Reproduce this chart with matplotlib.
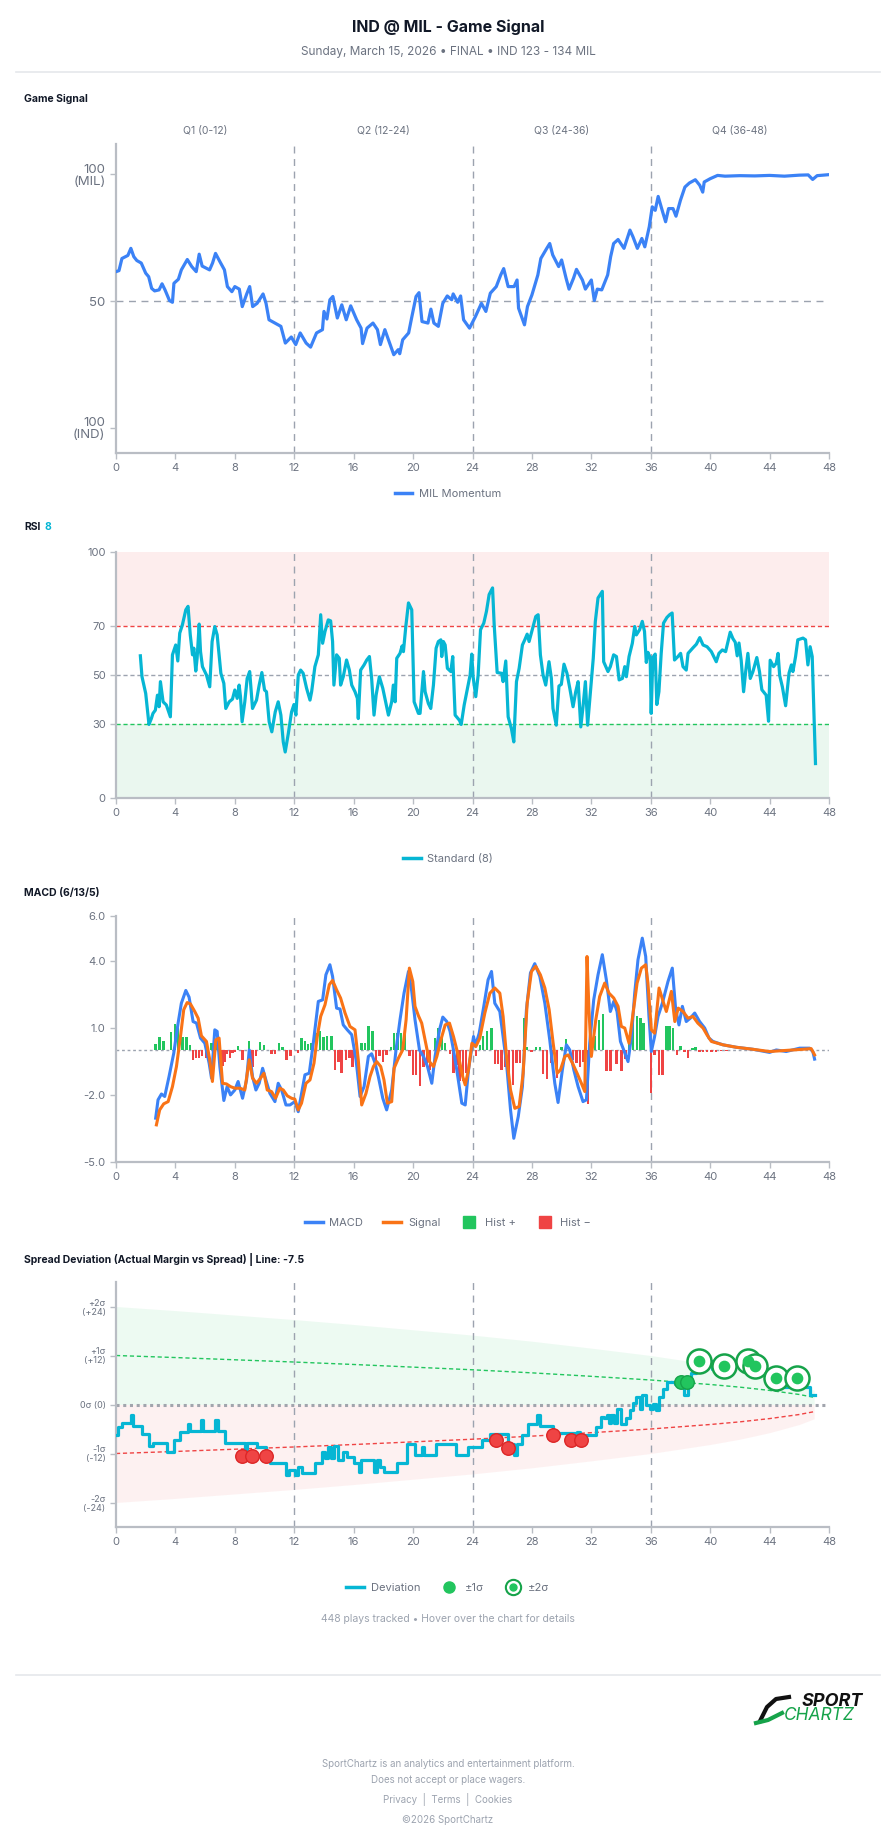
import numpy as np
import matplotlib
matplotlib.use("Agg")
import matplotlib.pyplot as plt
from matplotlib.lines import Line2D

plt.rcParams['font.family'] = ['Inter', 'DejaVu Sans']

# ---- data (minutes elapsed, value) ----
quarters = ["Q1 (0-12)", "Q2 (12-24)", "Q3 (24-36)", "Q4 (36-48)"]
quarter_mid = [6, 18, 30, 42]
quarter_lines = [12, 24, 36]
x_ticks = list(range(0, 49, 4))

gs_t = [0, 0.2, 0.4, 0.8, 1.0, 1.2, 1.4, 1.7, 2.0, 2.2,
        2.4, 2.6, 2.9, 3.1, 3.3, 3.6, 3.8, 3.9, 4.2, 4.4,
        4.8, 5.1, 5.4, 5.6, 5.8, 6.3, 6.5, 6.7, 7.0, 7.3,
        7.5, 7.8, 8.0, 8.3, 8.5, 8.8, 9.0, 9.2, 9.5, 9.9,
        10.1, 10.3, 10.8, 11.1, 11.4, 11.8, 12.1, 12.4, 12.8, 13.1,
        13.5, 13.9, 14.0, 14.2, 14.4, 14.6, 14.9, 15.2, 15.5, 15.8,
        16.2, 16.5, 16.6, 16.9, 17.3, 17.6, 17.8, 18.1, 18.5, 18.7,
        19.0, 19.1, 19.3, 19.7, 19.9, 20.2, 20.4, 20.6, 21.0, 21.2,
        21.4, 21.7, 22.0, 22.3, 22.6, 22.7, 23.0, 23.2, 23.4, 23.8,
        24.2, 24.6, 24.9, 25.2, 25.6, 25.9, 26.1, 26.4, 26.8, 27.0,
        27.1, 27.5, 27.7, 28.0, 28.4, 28.6, 29.0, 29.2, 29.4, 29.8,
        30.0, 30.3, 30.5, 30.8, 31.0, 31.4, 31.6, 32.0, 32.2, 32.4,
        32.7, 33.1, 33.3, 33.5, 33.8, 34.2, 34.6, 34.8, 35.1, 35.4,
        35.6, 35.9, 36.1, 36.3, 36.5, 36.8, 37.0, 37.2, 37.5, 37.7,
        38.0, 38.3, 38.6, 39.0, 39.3, 39.5, 39.6, 40.0, 40.5, 41.0,
        42, 43, 44, 45, 46, 46.6, 46.9, 47.2, 48.0]
gs_v = [61.6, 62, 66.8, 68, 70.8, 67.5, 66, 65, 61, 59.6,
        55, 54, 54.4, 56.8, 54.4, 50.2, 49.5, 57, 58.6, 62.3,
        66.4, 63.6, 61.6, 68.5, 63.8, 62.3, 65, 68.8, 65.5, 62.3,
        55.7, 53.7, 55.7, 54.7, 47.8, 52.8, 55.7, 47.8, 49.1, 52.8,
        49.1, 42.6, 41, 40, 33.4, 35.8, 32.8, 37.4, 33.4, 31.8,
        37.4, 38.7, 45.9, 42.9, 50.5, 51.8, 43.3, 48.5, 42.6, 48.1,
        42.6, 39.3, 33.2, 39.3, 41.3, 38.7, 32.8, 38.7, 32.1, 28.8,
        30.8, 29.2, 34.7, 37.4, 43.3, 51.8, 53.3, 41.9, 41.3, 46.8,
        41.3, 40, 49.1, 52, 50.5, 52.8, 49.5, 52, 42.6, 39.3,
        43.9, 49.1, 45.9, 53.1, 55.7, 60.3, 62.8, 55.7, 55.7, 58.3,
        47.2, 40.6, 47.8, 52.4, 60.3, 66.8, 70.8, 72.7, 68.2, 63.6,
        66.2, 59, 54.7, 59, 62.5, 58.3, 54.7, 58.3, 50.2, 54.7,
        54.4, 60.3, 67.5, 72.7, 74.3, 70.8, 78, 75.4, 70.8, 74.7,
        71.4, 79.3, 87.2, 85.8, 91.3, 85.2, 81.3, 86.5, 86.5, 83.5,
        89.8, 95, 96.6, 97.9, 95.7, 93, 97, 98.3, 99.6, 99.3,
        99.5, 99.4, 99.6, 99.3, 99.7, 99.8, 98, 99.5, 99.9]

rsi_pts = [(1.64, 57.8), (1.75, 49.3), (2.0, 42.5), (2.22, 29.9), (2.38, 32.3), (2.49, 34.4),
           (2.65, 35.7), (2.79, 41.8), (2.9, 37.1), (2.99, 47.3), (3.17, 39.1), (3.39, 37.8),
           (3.66, 33), (3.8, 58.2), (4.02, 62.2), (4.16, 55.7), (4.29, 67), (4.47, 70.4),
           (4.7, 76.5), (4.85, 77.9), (5.0, 66.3), (5.15, 58.2), (5.24, 60.9), (5.37, 51.6),
           (5.46, 56.8), (5.6, 70.7), (5.69, 59.5), (5.82, 53.4), (6.09, 50), (6.31, 45.2),
           (6.47, 63.6), (6.65, 69.7), (6.81, 66.3), (7.06, 50.7), (7.26, 46.6), (7.39, 36.4),
           (7.62, 39.1), (7.84, 40.2), (8.0, 43.9), (8.16, 40.5), (8.29, 45.9), (8.38, 41.2),
           (8.49, 31), (8.67, 39.1), (8.83, 48.6), (9.0, 51.4), (9.19, 36.4), (9.46, 39.8),
           (9.64, 45.9), (9.82, 51), (10.0, 43.9), (10.13, 43.2), (10.31, 31), (10.49, 26.9),
           (10.72, 35), (10.92, 39.1), (11.1, 33.7), (11.26, 22.8), (11.39, 18.7), (11.6, 26.2),
           (11.82, 35), (11.98, 38), (12.11, 33.7), (12.27, 50), (12.43, 52), (12.6, 50.7),
           (12.83, 44.6), (13.06, 39.8), (13.17, 43.2), (13.39, 53.4), (13.62, 58.2), (13.78, 74.5),
           (13.91, 62.9), (14.07, 67.7), (14.29, 72.4), (14.45, 72), (14.58, 63.6), (14.67, 45.9),
           (14.85, 58.2), (15.03, 56.8), (15.12, 45.9), (15.3, 49.3), (15.52, 56.1), (15.71, 52),
           (15.87, 45.9), (16.09, 43.2), (16.25, 40.5), (16.31, 32.3), (16.47, 52), (16.7, 54.1),
           (16.88, 56.1), (17.06, 57.5), (17.21, 48.6), (17.37, 33.7), (17.51, 41.8), (17.73, 49.3),
           (17.96, 44.6), (18.18, 38.4), (18.34, 33.7), (18.56, 39.1), (18.67, 45.9), (18.79, 39.1),
           (18.9, 56.8), (19.12, 58.8), (19.26, 61.8), (19.35, 59.5), (19.51, 69.7), (19.69, 79.3),
           (19.91, 76.5), (20.07, 39.1), (20.36, 34.4), (20.47, 34.4), (20.7, 51.4), (20.81, 43.2),
           (21.03, 38.4), (21.19, 36.4), (21.37, 45.9), (21.55, 60.9), (21.7, 63.6), (21.87, 64.3),
           (21.93, 57.5), (22.04, 63.6), (22.16, 62.2), (22.31, 52.7), (22.54, 51.4), (22.67, 57.5),
           (22.83, 33.7), (23.12, 31.6), (23.24, 29.9), (23.44, 37.8), (23.66, 44.6), (23.84, 50),
           (23.95, 58.5), (24.04, 49.3), (24.22, 41.2), (24.38, 50), (24.54, 68.4), (24.76, 71.1),
           (24.94, 75.9), (25.12, 82.7), (25.35, 85.4), (25.46, 70.4), (25.66, 51), (25.96, 50.7),
           (26.06, 47.3), (26.24, 55.7), (26.4, 33), (26.62, 28.2), (26.78, 22.8), (26.96, 47.3),
           (27.14, 52.7), (27.36, 62.2), (27.52, 64.3), (27.68, 66.6), (27.81, 63.6), (28.08, 69.7),
           (28.26, 73.8), (28.42, 74.5), (28.57, 58.2), (28.75, 50), (28.93, 45.9), (29.15, 55.4),
           (29.31, 48.6), (29.42, 36.4), (29.64, 29.6), (29.82, 45.5), (29.98, 46.2), (30.16, 54.4),
           (30.36, 50.7), (30.55, 44.6), (30.77, 37.1), (30.95, 43.2), (31.11, 47.3), (31.29, 28.9),
           (31.44, 37.1), (31.6, 47.3), (31.75, 29.6), (31.93, 42.5), (32.13, 56.8), (32.27, 71.8),
           (32.45, 81.3), (32.74, 84), (32.83, 55.4), (33.12, 51.4), (33.28, 53.4), (33.5, 58.2),
           (33.69, 57.5), (33.87, 48), (34.09, 48.6), (34.25, 53.4), (34.36, 49.3), (34.54, 57.5),
           (34.76, 62.9), (34.92, 69.7), (35.03, 66.3), (35.25, 68.4), (35.43, 71.8), (35.58, 67.7),
           (35.7, 55.1), (35.81, 59.2), (35.96, 57.1), (36.03, 34.4), (36.14, 57.1), (36.3, 58.5),
           (36.41, 38), (36.55, 43.2), (36.7, 58.5), (36.86, 71.1), (37.09, 73.4), (37.27, 74.5),
           (37.44, 75.2), (37.6, 56.1), (37.83, 57.5), (38.01, 58.8), (38.17, 53.4), (38.39, 52),
           (38.51, 58.8), (38.85, 61.1), (39.07, 62.5), (39.3, 65.2), (39.52, 62.2), (39.79, 61.5),
           (40.08, 59.5), (40.41, 55.4), (40.59, 58.8), (40.82, 60.2), (41.04, 59.5), (41.2, 63.6),
           (41.35, 67.4), (41.53, 64.8), (41.69, 63.3), (41.82, 57.8), (41.94, 63), (42.09, 55.9),
           (42.25, 43.2), (42.39, 51.4), (42.54, 58.8), (42.7, 48.6), (42.88, 51.4), (43.14, 57.1),
           (43.32, 51.4), (43.48, 44), (43.77, 41.8), (43.93, 31.2), (44.04, 56), (44.27, 53.4),
           (44.45, 54.8), (44.57, 58.8), (44.68, 49.8), (44.86, 45.2), (45.08, 37.5), (45.31, 50.8),
           (45.47, 54.1), (45.57, 51.4), (45.75, 57.5), (45.9, 64.3), (46.25, 65), (46.42, 64.3),
           (46.58, 54.1), (46.73, 61.5), (46.87, 57.5), (47.09, 14)]

macd_pts = [(2.67, -3.04), (2.83, -2.22), (3.06, -1.96), (3.28, -2.07), (3.57, -1.18), (3.89, -0.13),
            (4.18, 1.21), (4.4, 2.1), (4.7, 2.67), (4.92, 2.37), (5.19, 1.28), (5.42, 1.21),
            (5.69, 0.54), (5.98, 0.31), (6.27, -0.58), (6.43, -1.25), (6.65, 0.91), (6.81, 0.84),
            (6.99, -0.73), (7.26, -2.25), (7.48, -1.63), (7.71, -2.0), (8.0, -1.78), (8.22, -1.4),
            (8.52, -2.15), (8.79, -1.33), (8.97, 0.01), (9.19, -1.18), (9.42, -1.78), (9.64, -1.48),
            (9.87, -0.81), (10.09, -1.33), (10.36, -1.93), (10.7, -2.3), (10.92, -1.48), (11.15, -1.78),
            (11.44, -2.45), (11.71, -2.45), (12.04, -2.3), (12.27, -2.75), (12.49, -1.93), (12.72, -1.1),
            (13.01, -1.03), (13.28, 0.31), (13.62, 2.18), (13.91, 2.25), (14.13, 3.37), (14.4, 3.82),
            (14.58, 3.3), (14.85, 1.88), (15.08, 1.84), (15.3, 1.13), (15.57, 0.91), (15.87, 0.69),
            (16.16, -0.43), (16.43, -2.07), (16.7, -1.63), (16.99, -0.28), (17.21, -0.16), (17.44, -0.58),
            (17.66, -1.18), (17.96, -2.15), (18.22, -2.67), (18.56, -1.78), (18.85, 0.01), (19.12, 1.36),
            (19.39, 2.55), (19.69, 3.52), (19.91, 2.63), (20.13, 1.36), (20.43, 0.01), (20.7, -0.28),
            (20.97, -0.73), (21.26, -1.48), (21.48, -0.28), (21.78, 0.91), (22.0, 1.48), (22.27, 1.28),
            (22.49, 0.84), (22.72, 0.01), (22.94, -0.88), (23.28, -2.37), (23.51, -2.45), (23.73, -0.88),
            (24.07, 0.61), (24.2, 0.2), (24.45, 0.76), (24.76, 1.96), (25.05, 3.15), (25.28, 3.52),
            (25.5, 2.1), (25.84, 1.73), (26.06, 0.61), (26.29, -0.58), (26.56, -2.67), (26.78, -3.94),
            (27.08, -2.97), (27.36, -1.63), (27.63, 1.81), (27.9, 3.45), (28.19, 3.87), (28.53, 3.3),
            (28.87, 2.1), (29.2, 0.46), (29.54, -1.48), (29.76, -2.34), (30.05, -0.88), (30.32, 0.24),
            (30.55, 0.01), (30.82, -0.88), (31.11, -1.63), (31.44, -2.3), (31.67, -2.22), (31.89, 0.31),
            (32.16, 2.25), (32.45, 3.37), (32.74, 4.27), (33.01, 3.15), (33.28, 1.73), (33.51, 2.18),
            (33.73, 1.73), (33.96, 0.39), (34.18, 0.01), (34.47, -0.51), (34.7, 0.61), (34.92, 2.55),
            (35.14, 4.04), (35.43, 5.01), (35.66, 4.19), (35.88, 1.51), (36.04, -0.06), (36.26, 0.61),
            (36.49, 1.51), (36.78, 2.1), (37.16, 3.07), (37.45, 3.67), (37.68, 1.81), (37.9, 1.13),
            (38.13, 1.96), (38.39, 1.28), (38.66, 1.43), (38.96, 1.66), (39.29, 1.28), (39.63, 0.99),
            (39.92, 0.54), (40.19, 0.39), (40.86, 0.24), (41.76, 0.13), (42.88, 0.04), (44.0, -0.1),
            (44.45, 0.01), (45.12, -0.06), (46.02, 0.09), (46.69, 0.09), (46.91, -0.06), (47.03, -0.4)]

signal_pts = [(2.72, -3.34), (2.94, -2.67), (3.21, -2.4), (3.51, -2.3), (3.8, -1.63), (4.07, -0.73),
              (4.34, 0.61), (4.56, 1.81), (4.79, 2.13), (5.01, 2.07), (5.3, 1.73), (5.53, 1.43),
              (5.75, 0.64), (6.09, 0.39), (6.31, -0.43), (6.49, -1.4), (6.72, 0.46), (6.94, 0.54),
              (7.17, -1.48), (7.44, -1.51), (7.71, -1.63), (8.0, -1.7), (8.34, -1.7), (8.67, -1.78),
              (8.97, -0.43), (9.19, -1.25), (9.46, -1.48), (9.73, -1.25), (9.96, -1.03), (10.18, -1.78),
              (10.47, -1.85), (10.74, -2.15), (11.03, -1.7), (11.26, -1.78), (11.53, -2.04), (11.82, -2.15),
              (12.04, -2.19), (12.27, -2.67), (12.49, -2.37), (12.79, -1.48), (13.06, -1.33), (13.33, -0.58),
              (13.55, 0.61), (13.78, 1.51), (14.07, 2.03), (14.36, 2.93), (14.58, 3.12), (14.85, 2.7),
              (15.12, 2.33), (15.42, 1.66), (15.75, 1.06), (16.09, 0.91), (16.31, -0.43), (16.54, -2.45),
              (16.83, -1.93), (17.1, -1.18), (17.33, -0.73), (17.55, -0.51), (17.82, -0.73), (18.04, -1.33),
              (18.27, -2.37), (18.56, -2.3), (18.72, -0.81), (19.01, -0.36), (19.3, 0.01), (19.53, 1.36),
              (19.75, 3.67), (19.98, 3.07), (20.13, 1.96), (20.36, 1.54), (20.58, 1.21), (20.81, 0.46),
              (21.1, -0.51), (21.37, -0.73), (21.6, -0.28), (21.87, 0.46), (22.16, 1.13), (22.45, 1.21),
              (22.72, 0.61), (23.06, -0.28), (23.34, -1.18), (23.51, -1.55), (23.73, -0.88), (23.96, 0.31),
              (24.22, 0.16), (24.49, 0.54), (24.83, 1.66), (25.17, 2.55), (25.5, 2.78), (25.84, 2.55),
              (26.06, 1.51), (26.29, -0.28), (26.56, -1.78), (26.85, -2.6), (27.14, -2.52), (27.41, -1.03),
              (27.68, 2.1), (27.97, 3.52), (28.26, 3.75), (28.57, 3.37), (28.87, 2.78), (29.16, 1.81),
              (29.43, 0.31), (29.7, -1.03), (29.92, -0.88), (30.22, -0.28), (30.44, -0.21), (30.73, -0.58),
              (31.04, -1.03), (31.33, -1.48), (31.56, -1.85), (31.71, 4.19), (31.84, 1.81), (32.0, -0.28),
              (32.3, 1.36), (32.56, 2.4), (32.9, 3.0), (33.19, 2.55), (33.51, 2.33), (33.8, 1.96),
              (34.02, 1.06), (34.25, 0.99), (34.54, 0.31), (34.81, 1.66), (35.08, 3.0), (35.37, 3.67),
              (35.66, 3.82), (35.81, 3.0), (36.04, 0.91), (36.26, 0.76), (36.56, 2.78), (36.83, 2.18),
              (37.05, 1.73), (37.39, 2.63), (37.62, 1.28), (37.85, 1.88), (38.17, 1.73), (38.51, 1.43),
              (38.84, 1.51), (39.17, 1.21), (39.52, 0.99), (39.78, 0.69), (40.08, 0.39), (40.86, 0.24),
              (41.76, 0.13), (42.88, 0.04), (44.0, -0.06), (45.12, -0.01), (46.24, 0.04), (46.8, 0.07),
              (47.03, -0.21)]

hist_pts = [(2.67, 0.27), (2.94, 0.61), (3.21, 0.43), (3.69, 0.81), (3.96, 1.16), (4.18, 0.99),
            (4.47, 0.61), (4.74, 0.58), (4.97, 0.24), (5.19, -0.46), (5.37, -0.36), (5.6, -0.36),
            (5.78, -0.28), (6.04, -0.36), (6.43, 0.31), (6.58, 0.31), (6.81, 0.34), (7.17, -0.7),
            (7.33, -0.51), (7.48, -0.16), (7.66, -0.36), (7.84, -0.13), (8.0, -0.06), (8.22, 0.19),
            (8.52, -0.43), (8.97, 0.42), (9.19, -0.73), (9.42, -0.28), (9.69, 0.36), (9.96, 0.24),
            (10.47, -0.16), (10.7, -0.16), (10.99, 0.34), (11.21, 0.13), (11.48, -0.46), (11.75, -0.28),
            (12.27, -0.13), (12.49, 0.54), (12.72, 0.42), (12.94, 0.28), (13.17, 0.31), (13.46, 0.76),
            (13.73, 0.84), (13.96, 0.61), (14.22, 0.64), (14.52, 0.64), (14.74, -0.88), (14.97, -0.51),
            (15.19, -1.03), (15.48, -0.43), (15.71, -0.36), (15.93, -0.73), (16.54, 0.34), (16.76, 0.34),
            (16.99, 1.09), (17.28, 0.84), (17.51, -0.51), (17.73, -0.28), (17.96, -0.51), (18.22, -0.21),
            (18.52, 0.16), (18.72, 0.79), (18.94, 0.79), (19.17, 0.79), (19.46, 0.91), (19.75, -0.28),
            (19.98, -1.1), (20.2, -1.1), (20.47, -1.6), (20.7, -0.73), (20.92, -0.66), (21.15, -0.88),
            (21.48, 0.54), (21.71, 0.99), (21.93, 0.54), (22.16, 0.31), (22.49, -0.16), (22.72, -1.03),
            (22.94, -0.66), (23.12, -1.4), (23.35, -1.4), (23.57, -1.03), (24.22, -0.25), (24.49, 0.24),
            (24.72, 0.64), (24.99, 0.84), (25.28, 0.99), (25.5, -0.61), (25.73, -0.61), (25.95, -0.88),
            (26.17, -0.73), (26.47, -1.48), (26.74, -1.55), (26.96, -0.58), (27.18, -0.58), (27.45, 1.43),
            (27.68, 0.13), (27.97, -0.1), (28.26, 0.12), (28.53, 0.12), (28.75, -1.06), (29.02, -1.3),
            (29.31, -0.58), (29.7, -1.25), (29.99, 0.16), (30.28, 0.49), (30.5, 0.16), (30.77, -0.43),
            (31.0, -0.58), (31.22, -0.76), (31.44, -0.51), (31.78, -2.42), (32.23, 0.64), (32.52, 1.36),
            (32.79, 1.63), (33.01, -0.91), (33.28, -0.91), (33.69, -0.61), (34.02, -0.91), (34.31, -0.4),
            (34.54, 0.46), (34.81, 1.21), (35.08, 1.51), (35.3, 1.43), (35.52, 1.21), (36.0, -1.93),
            (36.26, -0.21), (36.56, -1.1), (36.78, -1.1), (37.05, 1.06), (37.27, 1.09), (37.5, 0.99),
            (37.77, -0.21), (38.01, 0.19), (38.28, -0.06), (38.51, -0.36), (38.8, 0.09), (39.02, 0.13),
            (39.29, -0.06), (39.52, -0.1), (39.78, -0.1), (40.08, -0.09), (40.41, -0.07), (40.75, -0.04),
            (41.09, -0.03)]

# spread deviation (step line) and sigma bands
dev_pts = [(0.0, -7.5), (0.16, -5.5), (0.38, -4.5), (1.0, -2.6), (1.16, -5.3), (1.78, -7.3),
           (2.25, -10.2), (2.47, -9.4), (3.41, -11.6), (3.88, -8.6), (4.29, -6.7), (4.82, -4.7),
           (4.98, -6.4), (5.7, -3.7), (5.85, -6.4), (6.67, -3.7), (6.86, -6.4), (7.36, -9.4),
           (8.67, -10.8), (8.83, -9.4), (9.46, -10.4), (10.08, -12.4), (10.39, -14.3), (11.43, -17.3),
           (11.65, -16.1), (12.05, -17.3), (12.27, -15.3), (12.49, -16.7), (13.37, -14.3), (13.84, -11.6),
           (14.06, -13.2), (14.25, -10.4), (14.46, -13.2), (14.68, -10.2), (14.93, -13.5), (15.25, -11.6),
           (15.56, -12.8), (16.03, -14.3), (16.34, -16.5), (16.5, -13.6), (17.38, -16.5), (17.56, -13.6),
           (17.75, -15.4), (18.07, -16.5), (18.94, -14.3), (19.57, -9.6), (20.1, -12.4), (20.57, -10.4),
           (20.73, -12.4), (21.51, -9.6), (22.92, -12.4), (23.7, -10.4), (24.64, -8.6), (25.2, -7.3),
           (26.36, -10.4), (26.58, -9.6), (26.77, -12.4), (26.99, -9.6), (27.3, -7.5), (27.71, -4.7),
           (28.33, -2.6), (28.55, -5.3), (29.4, -7.1), (31.06, -6.7), (31.21, -7.5), (32.31, -5.5),
           (32.62, -3.0), (32.84, -3.4), (33.03, -2.6), (33.16, -4.5), (33.34, -2.6), (33.5, -4.5),
           (33.72, -1.2), (33.97, -4.7), (34.35, -3.2), (34.6, -1.4), (34.82, 0.4), (35.03, 1.9),
           (35.28, -1.0), (35.44, 2.3), (35.66, -0.2), (35.97, -1.0), (36.16, 0.1), (36.38, -1.4),
           (36.54, 1.9), (36.85, 3.9), (37.1, 5.6), (37.63, 5.1), (38.26, 2.3), (38.48, 5.1),
           (38.73, 7.6), (39.04, 8.6), (39.2, 10.6), (40.14, 8.6), (40.29, 9.6), (42.11, 10.6),
           (42.33, 8.6), (42.8, 9.6), (43.3, 8.6), (43.8, 6.8), (44.05, 4.3), (45.87, 6.4),
           (46.31, 4.3), (46.72, 2.3), (47.03, 2.3)]

sig_t = [0, 4, 8, 12, 16, 20, 24, 28, 32, 36, 40, 42, 44, 46, 47]
sig_1 = [12, 11.5, 10.95, 10.4, 9.8, 9.15, 8.5, 7.75, 6.9, 6.0, 4.9, 4.25, 3.45, 2.45, 1.75]
sig_2 = [24, 23, 21.9, 20.8, 19.6, 18.3, 17, 15.5, 13.8, 12, 9.8, 8.5, 6.9, 4.9, 3.5]

red_pts = [(8.45, -12.6), (9.14, -12.6), (10.08, -12.6), (25.58, -8.6), (26.36, -10.6),
           (29.4, -7.5), (30.65, -8.6), (31.28, -8.6)]
green1_pts = [(38.04, 5.5), (38.42, 5.5)]
green2_pts = [(39.26, 10.6), (40.92, 9.5), (42.55, 10.6), (43.05, 9.5), (44.46, 6.4), (45.84, 6.5)]

# ---- colours ----
BLUE = '#3b82f6'
TEAL = '#06b6d4'
ORANGE = '#f97316'
GREEN = '#22c55e'
DKGREEN = '#16a34a'
RED = '#ef4444'
DKRED = '#dc2626'
GRID = '#9ca3af'
TXT = '#6b7280'

W, H = 896, 1845
fig = plt.figure(figsize=(W / 100, H / 100), dpi=100)
fig.patch.set_facecolor('white')


def fy(y):
    return 1 - y / H


def fx(x):
    return x / W


def make_ax(top, bottom):
    ax = fig.add_axes([fx(116), fy(bottom), fx(829) - fx(116), (bottom - top) / H])
    ax.set_xlim(0, 48)
    ax.set_xticks(x_ticks)
    for s in ['top', 'right']:
        ax.spines[s].set_visible(False)
    for s in ['left', 'bottom']:
        ax.spines[s].set_color('#b9bdc4')
        ax.spines[s].set_linewidth(1.6)
    ax.tick_params(colors='#b9bdc4', labelcolor=TXT, labelsize=8, length=4, width=1)
    for q in quarter_lines:
        ax.axvline(q, color=GRID, ls=(0, (5, 4)), lw=1, zorder=1)
    return ax


def legend_at(ax, handles, labels, y, ncol):
    ax.legend(handles, labels, loc='center', bbox_to_anchor=(0.5, fy(y)),
              bbox_transform=fig.transFigure, ncol=ncol, frameon=False,
              fontsize=8, labelcolor=TXT, handlelength=1.6, columnspacing=1.8,
              handletextpad=0.6)


def section(y, txt):
    return fig.text(fx(24), fy(y), txt, fontsize=7.5, fontweight='bold',
                    color='#111827', va='center', ha='left')


# ---- header ----
fig.text(0.5, fy(27), 'IND @ MIL - Game Signal', ha='center', va='center',
         fontsize=11.5, fontweight='bold', color='#111827')
fig.text(0.5, fy(52), 'Sunday, March 15, 2026 \u2022 FINAL \u2022 IND 123 - 134 MIL',
         ha='center', va='center', fontsize=8.5, color=TXT)
fig.add_artist(Line2D([fx(16), fx(880)], [fy(72), fy(72)], color='#e5e7eb', lw=1.2))

# ---- panel 1: game signal ----
section(99, 'Game Signal')
ax1 = make_ax(144, 453)
ax1.set_ylim(-10, 112)
ax1.axhline(50, color=GRID, ls=(0, (5, 4)), lw=1, zorder=1)
ax1.plot(gs_t, gs_v, color=BLUE, lw=2.3, zorder=3)
ax1.set_yticks([0, 50, 100])
ax1.set_yticklabels(['100\n(IND)', '50', '100\n(MIL)'], fontsize=9.5, linespacing=1.0)
for lab, m in zip(quarters, quarter_mid):
    fig.text(fx(116 + m / 48 * 713), fy(131), lab, ha='center', va='center',
             fontsize=7.5, color=TXT)
legend_at(ax1, [Line2D([], [], color=BLUE, lw=2.5)], ['MIL Momentum'], 494, 1)

# ---- panel 2: RSI ----
section(527, 'RSI')
fig.text(fx(44), fy(527), '8', fontsize=7.5, fontweight='bold', color=TEAL,
         va='center', ha='left')
ax2 = make_ax(552, 798)
ax2.set_ylim(0, 100)
ax2.axhspan(70, 100, color='#fdeded', lw=0, zorder=0)
ax2.axhspan(0, 30, color='#eaf7ef', lw=0, zorder=0)
ax2.axhline(70, color=RED, ls=(0, (3, 2)), lw=1, zorder=1)
ax2.axhline(50, color=GRID, ls=(0, (3, 2)), lw=1, zorder=1)
ax2.axhline(30, color=GREEN, ls=(0, (3, 2)), lw=1, zorder=1)
rsi_t, rsi_v = zip(*rsi_pts)
ax2.plot(rsi_t, rsi_v, color=TEAL, lw=2.3, zorder=3)
ax2.set_yticks([0, 30, 50, 70, 100])
legend_at(ax2, [Line2D([], [], color=TEAL, lw=2.5)], ['Standard (8)'], 859, 1)

# ---- panel 3: MACD ----
section(893, 'MACD (6/13/5)')
ax3 = make_ax(916, 1162)
ax3.set_ylim(-5, 6)
ax3.axhline(0, color=GRID, ls=(0, (2, 2)), lw=1, zorder=1)
h_t, h_v = zip(*hist_pts)
ax3.bar(h_t, h_v, width=0.16, color=[GREEN if v >= 0 else RED for v in h_v],
        lw=0, zorder=2)
m_t, m_v = zip(*macd_pts)
s_t, s_v = zip(*signal_pts)
ax3.plot(m_t, m_v, color=BLUE, lw=2.2, zorder=3)
ax3.plot(s_t, s_v, color=ORANGE, lw=2.2, zorder=4)
ax3.set_yticks([-5, -2, 1, 4, 6])
ax3.set_yticklabels(['-5.0', '-2.0', '1.0', '4.0', '6.0'])
legend_at(ax3,
          [Line2D([], [], color=BLUE, lw=2.5), Line2D([], [], color=ORANGE, lw=2.5),
           Line2D([], [], marker='s', ls='', color=GREEN, markersize=8.5),
           Line2D([], [], marker='s', ls='', color=RED, markersize=8.5)],
          ['MACD', 'Signal', 'Hist +', 'Hist \u2212'], 1223, 4)

# ---- panel 4: spread deviation ----
section(1259, 'Spread Deviation (Actual Margin vs Spread) | Line: -7.5')
ax4 = make_ax(1282, 1527)
ax4.set_ylim(-30, 30)
s1 = np.array(sig_1)
s2 = np.array(sig_2)
ax4.fill_between(sig_t, 0, s2, color=GREEN, alpha=0.08, lw=0, zorder=0)
ax4.fill_between(sig_t, -s2, 0, color=RED, alpha=0.07, lw=0, zorder=0)
ax4.plot(sig_t, s1, color=GREEN, ls=(0, (3, 2)), lw=1, zorder=1)
ax4.plot(sig_t, -s1, color=RED, ls=(0, (3, 2)), lw=1, zorder=1)
ax4.axhline(0, color='#a1a5ad', ls=(0, (1, 1.2)), lw=2.2, zorder=1)
d_t, d_v = zip(*dev_pts)
ax4.step(d_t, d_v, where='post', color=TEAL, lw=2.3, zorder=3)
rx, ry = zip(*red_pts)
ax4.scatter(rx, ry, s=95, color=RED, edgecolors=DKRED, linewidths=1, zorder=5)
g1x, g1y = zip(*green1_pts)
ax4.scatter(g1x, g1y, s=95, color=GREEN, edgecolors=DKGREEN, linewidths=1, zorder=5)
g2x, g2y = zip(*green2_pts)
ax4.scatter(g2x, g2y, s=300, facecolors='white', edgecolors=DKGREEN, linewidths=1.8, zorder=5)
ax4.scatter(g2x, g2y, s=55, color=GREEN, zorder=6)
ax4.set_yticks([-24, -12, 0, 12, 24])
ax4.set_yticklabels(['-2\u03c3\n(-24)', '-1\u03c3\n(-12)', '0\u03c3 (0)',
                     '+1\u03c3\n(+12)', '+2\u03c3\n(+24)'], fontsize=6.5, linespacing=1.0)
ring = Line2D([], [], marker='o', ls='', mfc='white', mec=DKGREEN, mew=1.5, markersize=11)
dot = Line2D([], [], marker='o', ls='', color=GREEN, markersize=5)
legend_at(ax4,
          [Line2D([], [], color=TEAL, lw=2.5),
           Line2D([], [], marker='o', ls='', color=GREEN, markersize=8),
           (ring, dot)],
          ['Deviation', '\u00b11\u03c3', '\u00b12\u03c3'], 1588, 3)

fig.text(0.5, fy(1619), '448 plays tracked \u2022 Hover over the chart for details',
         ha='center', va='center', fontsize=7.5, color='#9ca3af')

# ---- footer ----
fig.add_artist(Line2D([fx(16), fx(880)], [fy(1675), fy(1675)], color='#e5e7eb', lw=1.2))
fig.add_artist(Line2D([fx(760), fx(767), fx(776), fx(789)],
                      [fy(1721), fy(1707), fy(1699), fy(1697)], color='#111111', lw=3))
fig.add_artist(Line2D([fx(756), fx(768), fx(782)],
                      [fy(1723), fy(1720), fy(1713)], color='#16a34a', lw=3))
fig.text(fx(863), fy(1701), 'SPORT', ha='right', va='center', fontsize=13,
         fontweight='bold', fontstyle='italic', color='#111111')
fig.text(fx(855), fy(1716), 'CHARTZ', ha='right', va='center', fontsize=12.5,
         fontstyle='italic', color='#16a34a')

foot = ['SportChartz is an analytics and entertainment platform.',
        'Does not accept or place wagers.',
        'Privacy  |  Terms  |  Cookies',
        '\u00a92026 SportChartz']
for txt, y in zip(foot, [1764, 1780, 1800, 1820]):
    fig.text(0.5, fy(y), txt, ha='center', va='center', fontsize=7, color='#9ca3af')

fig.savefig('out.png', dpi=100, facecolor='white')
